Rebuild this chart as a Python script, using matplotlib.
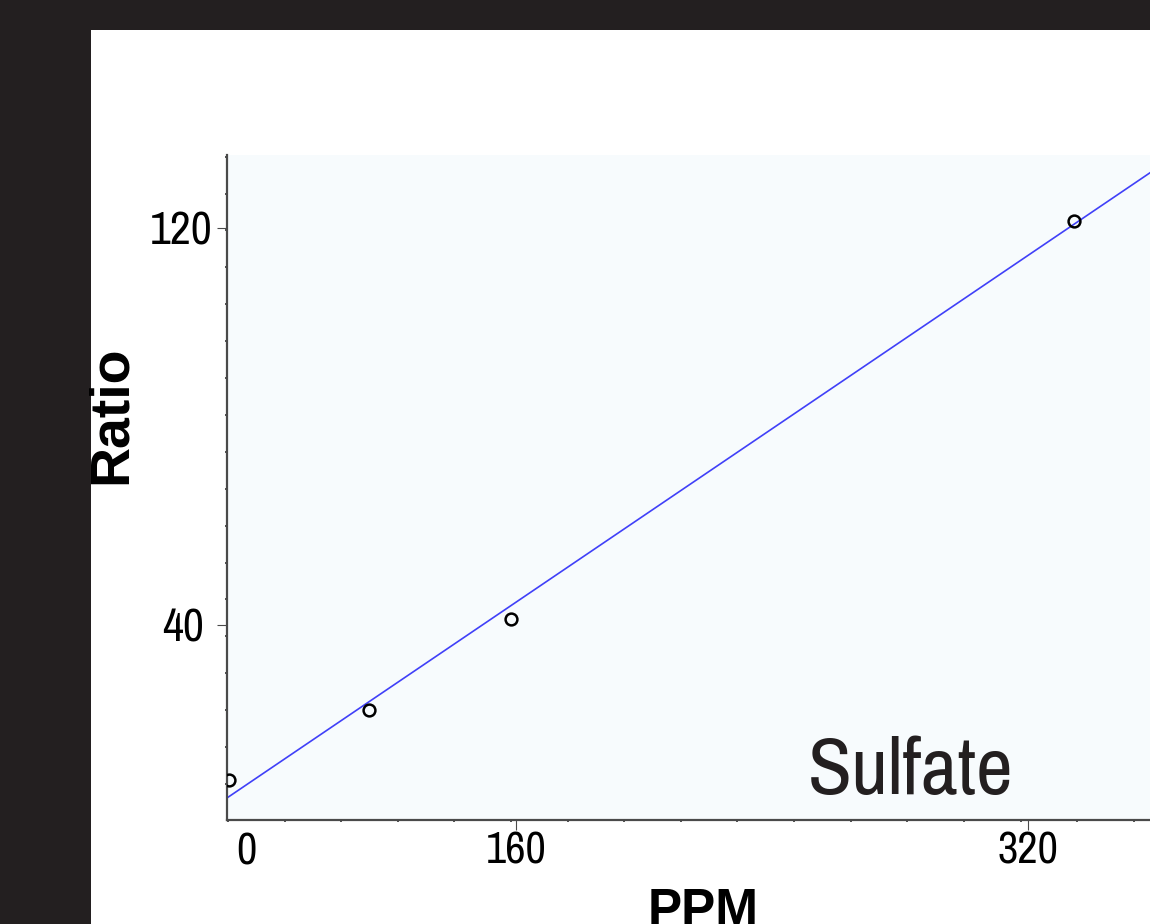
#!/usr/bin/env python3
"""Sulfate calibration plot: ratio vs PPM with linear fit."""

import matplotlib
matplotlib.use('Agg')
import matplotlib.pyplot as plt
import matplotlib.transforms as mtransforms
from matplotlib import font_manager
from matplotlib.patches import Rectangle
from matplotlib.ticker import FixedLocator
import numpy as np

# data
ppm = [70.3, 114.2, 158.3, 334.4]
ratio = [8.8, 22.9, 41.2, 121.4]
fit_slope = 0.4368
fit_intercept = -25.3

x_ticks = [160, 320]
x_tick_labels = ['160', '320']
y_ticks = [40, 120]
y_tick_labels = ['40', '120']
origin_label = '0'
x_label = 'PPM'
y_label = 'Ratio'
analyte = 'Sulfate'


def pick(candidates):
    have = {f.name for f in font_manager.fontManager.ttflist}
    for name in candidates:
        if name in have:
            return [name, 'DejaVu Sans']
    return ['DejaVu Sans']


NARROW = pick(['Arial Narrow', 'Liberation Sans Narrow', 'Archivo Narrow',
               'Roboto Condensed', 'PT Sans Narrow', 'IBM Plex Sans Condensed'])
BOLD = pick(['Arial', 'Liberation Sans', 'Arimo'])

DARK = '#231f20'
AXIS = '#4a4a4a'

W, H = 1150, 924

fig = plt.figure(figsize=(W / 100, H / 100), dpi=100, facecolor=DARK)
fig.add_artist(Rectangle((91 / W, 0), 1 - 91 / W, (H - 30) / H,
                         transform=fig.transFigure, facecolor='white',
                         edgecolor='none', zorder=0))

ax = fig.add_axes([227 / W, 1 - 820 / H, (W - 227) / W, (820 - 155) / H])
ax.set_facecolor('#f7fbfd')
ax.set_xlim(69.7, 358.1)
ax.set_ylim(0.7, 134.7)

xs = np.array(ax.get_xlim())
ax.plot(xs, fit_slope * xs + fit_intercept, color='#4040f8', lw=1.2, zorder=2)
ax.plot(ppm, ratio, 'o', ms=8.5, mfc='none', mec='black', mew=1.8, zorder=3)

for side in ('top', 'right'):
    ax.spines[side].set_visible(False)
for side in ('left', 'bottom'):
    ax.spines[side].set_color(AXIS)
    ax.spines[side].set_linewidth(1.6)

ax.set_xticks(x_ticks, x_tick_labels)
ax.set_yticks(y_ticks, y_tick_labels)
ax.xaxis.set_minor_locator(FixedLocator(np.arange(70, 360, 17.69)))
ax.yaxis.set_minor_locator(FixedLocator(np.arange(0.52, 135, 7.436)))
ax.tick_params(which='major', direction='out', length=7.5, width=0.8,
               color=AXIS, labelcolor='black')
ax.tick_params(axis='x', which='major', pad=1, labelsize=32)
ax.tick_params(axis='y', which='major', pad=3, labelsize=33)
ax.tick_params(which='minor', direction='out', length=1.2, width=1.2,
               color='#333333')
for lab in ax.get_xticklabels() + ax.get_yticklabels():
    lab.set_family(NARROW)

# the hand placed 40 label sits further from its tick
lab40 = ax.get_yticklabels()[0]
lab40.set_transform(lab40.get_transform() + mtransforms.ScaledTranslation(
    -8 / 100, 0, fig.dpi_scale_trans))

ax.text(75.9, -0.0195, origin_label, transform=ax.get_xaxis_transform(),
        ha='center', va='top', fontsize=32, family=NARROW, color='black')

ax.text(0.629, 0.018, analyte, transform=ax.transAxes, ha='left',
        va='bottom', fontsize=58, family=NARROW, color=DARK)

fig.text(112 / W, 1 - 415 / H, y_label, rotation=90, ha='center',
         va='center', fontsize=40, fontweight='bold', family=BOLD)
fig.text(703 / W, 1 - 887 / H, x_label, ha='center', va='top',
         fontsize=37, fontweight='bold', family=BOLD)

fig.savefig('out.png', dpi=100, facecolor=fig.get_facecolor())
